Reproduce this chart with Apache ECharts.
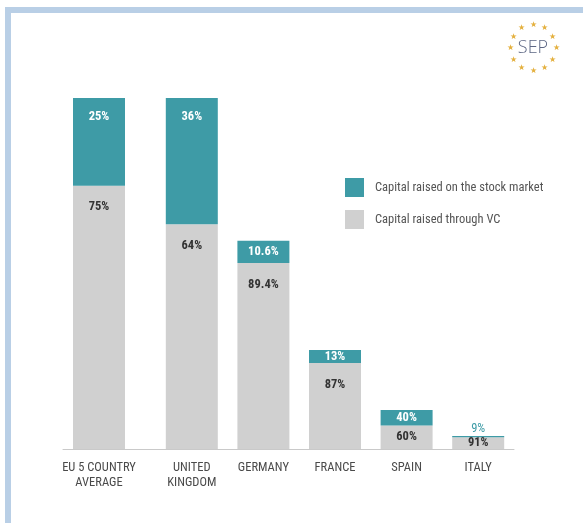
<!DOCTYPE html>
<html>
<head>
<meta charset="utf-8">
<script src="https://cdn.jsdelivr.net/npm/echarts@6/dist/echarts.min.js"></script>
<style>
  html, body { margin: 0; padding: 0; background: #fff; overflow: hidden; }
  #frame {
    position: absolute; left: 5px; top: 7px; width: 600px; height: 540px;
    border-top: 6px solid #b9cfe6; border-left: 6px solid #b9cfe6;
  }
  #chart { position: absolute; left: 0; top: 0; width: 583px; height: 523px; }
</style>
</head>
<body>
<div id="frame"></div>
<div id="chart"></div>
<script>
// Category names
const averageLabel = ['EU 5 COUNTRY\nAVERAGE'];
const countryLabels = ['UNITED\nKINGDOM', 'GERMANY', 'FRANCE', 'SPAIN', 'ITALY'];

// Relative total capital raised (EU 5 average = 100), first entry is the average
const totals = [100, 100, 59.3, 28.2, 11.1, 3.7];
// Share of capital raised on the stock market / through VC (%)
const stockShare = [25, 36, 10.6, 13, 40, 9];
const vcShare = [75, 64, 89.4, 87, 60, 91];

const STOCK_NAME = 'Capital raised on the stock market';
const VC_NAME = 'Capital raised through VC';
const TEAL = '#3e9ba6';
const GREY = '#d0d0d0';
const FONT = "'Liberation Sans Narrow', 'Roboto Condensed', Roboto, sans-serif";

// Tall segments get their label near the top, short ones centred
function segLabel(segValue, share, isStock) {
  const txt = share + '%';
  const base = {
    show: true, formatter: txt, fontFamily: FONT, fontSize: 12.5, fontWeight: 'bold',
    color: isStock ? '#ffffff' : '#333333'
  };
  if (isStock && segValue < 2) {
    return Object.assign(base, { position: 'top', distance: 1, color: TEAL, fontWeight: 'normal' });
  }
  if (segValue > 12) {
    return Object.assign(base, { position: 'insideTop', distance: isStock ? 12 : 15 });
  }
  return Object.assign(base, { position: 'inside' });
}

function buildData(indices, isStock, pad) {
  const out = indices.map(i => {
    const share = isStock ? stockShare[i] : vcShare[i];
    const v = totals[i] * share / 100;
    return { value: v, label: segLabel(v, share, isStock) };
  });
  while (out.length < pad) out.push(null);
  return out;
}

const countryIdx = [1, 2, 3, 4, 5];

const chart = echarts.init(document.getElementById('chart'), null, { renderer: 'canvas' });

// SEP logo: ring of stars around the letters
const logoCx = 533, logoCy = 48, logoR = 23;
const stars = [];
for (let k = 0; k < 12; k++) {
  const a = (k * 30 - 90) * Math.PI / 180;
  stars.push({
    type: 'text',
    x: logoCx + logoR * Math.cos(a),
    y: logoCy + logoR * Math.sin(a),
    style: { text: '★', fontSize: 8, fill: '#e4b03e', align: 'center', verticalAlign: 'middle' }
  });
}

const xAxisCommon = {
  type: 'category',
  axisTick: { show: false },
  axisLine: { lineStyle: { color: '#c9c9c9', width: 1 } },
  axisLabel: { fontFamily: FONT, fontSize: 12.5, color: '#4a4a4a', lineHeight: 15.5, margin: 11, interval: 0 }
};
const yAxisCommon = { type: 'value', min: 0, max: 100, show: false, splitLine: { show: false } };

chart.setOption({
  animation: false,
  backgroundColor: 'transparent',
  textStyle: { fontFamily: FONT },
  legend: {
    data: [STOCK_NAME, VC_NAME],
    orient: 'vertical',
    left: 345, top: 178,
    itemWidth: 19, itemHeight: 19, itemGap: 13,
    icon: 'rect',
    padding: 0,
    textStyle: { fontFamily: FONT, fontSize: 12.5, color: '#555555', padding: [0, 0, 0, 6] }
  },
  grid: [
    { left: 63, width: 144, top: 98, bottom: 74 },
    { left: 156, right: 69, top: 98, bottom: 74 }
  ],
  xAxis: [
    Object.assign({ gridIndex: 0, data: averageLabel.concat(['']) }, xAxisCommon),
    Object.assign({ gridIndex: 1, data: countryLabels }, xAxisCommon)
  ],
  yAxis: [
    Object.assign({ gridIndex: 0 }, yAxisCommon),
    Object.assign({ gridIndex: 1 }, yAxisCommon)
  ],
  series: [
    { name: VC_NAME, type: 'bar', stack: 'avg', xAxisIndex: 0, yAxisIndex: 0, barWidth: 52,
      itemStyle: { color: GREY }, data: buildData([0], false, 2) },
    { name: STOCK_NAME, type: 'bar', stack: 'avg', xAxisIndex: 0, yAxisIndex: 0, barWidth: 52,
      itemStyle: { color: TEAL }, data: buildData([0], true, 2) },
    { name: VC_NAME, type: 'bar', stack: 'cty', xAxisIndex: 1, yAxisIndex: 1, barWidth: 52,
      itemStyle: { color: GREY }, data: buildData(countryIdx, false, 0) },
    { name: STOCK_NAME, type: 'bar', stack: 'cty', xAxisIndex: 1, yAxisIndex: 1, barWidth: 52,
      itemStyle: { color: TEAL }, data: buildData(countryIdx, true, 0) }
  ],
  graphic: stars.concat([
    { type: 'text', x: logoCx, y: logoCy,
      style: { text: 'SEP', fontFamily: "'Open Sans', Roboto, sans-serif", fontSize: 18, fontWeight: 300,
               fill: '#5d6784', align: 'center', verticalAlign: 'middle' } }
  ])
});
</script>
</body>
</html>
